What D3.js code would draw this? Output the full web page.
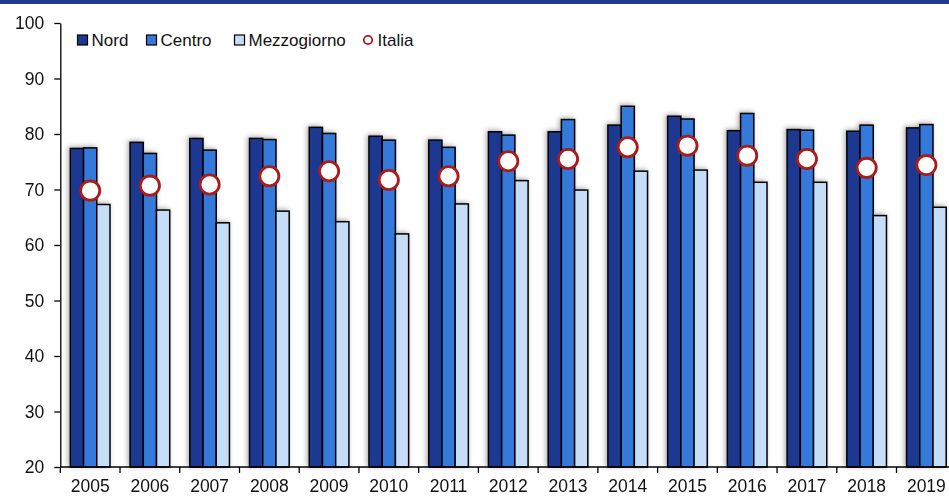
<!DOCTYPE html>
<html>
<head>
<meta charset="utf-8">
<script src="https://cdn.jsdelivr.net/npm/d3@7"></script>
<style>
  body { margin: 0; background: #fff; }
  svg { display: block; }
  text { font-family: "Liberation Sans", Arial, sans-serif; fill: #111; }
</style>
</head>
<body>
<svg id="chart" width="949" height="497"></svg>
<script>
// Share (%) by macro-area, 2005-2019
const years = ["2005","2006","2007","2008","2009","2010","2011","2012","2013","2014","2015","2016","2017","2018","2019"];
const nord        = [77.4, 78.5, 79.2, 79.2, 81.2, 79.6, 78.9, 80.4, 80.4, 81.6, 83.2, 80.6, 80.8, 80.5, 81.1];
const centro      = [77.5, 76.5, 77.1, 79.0, 80.1, 78.9, 77.6, 79.8, 82.6, 85.0, 82.7, 83.7, 80.7, 81.6, 81.7];
const mezzogiorno = [67.3, 66.3, 64.0, 66.1, 64.2, 62.0, 67.4, 71.6, 69.9, 73.3, 73.5, 71.3, 71.3, 65.3, 66.8];
const italia      = [69.8, 70.7, 70.9, 72.4, 73.3, 71.7, 72.4, 75.1, 75.5, 77.6, 77.9, 76.1, 75.5, 73.9, 74.4];
const seriesNames = ["Nord", "Centro", "Mezzogiorno"];
const yTicks = [20, 30, 40, 50, 60, 70, 80, 90, 100];

const seriesValues = { Nord: nord, Centro: centro, Mezzogiorno: mezzogiorno };
const seriesColors = { Nord: "#1f3891", Centro: "#3479da", Mezzogiorno: "#c6ddf8" };
const italiaStroke = "#a81c1c";

const svg = d3.select("#chart");
const W = 949;

const plotLeft = 60.3, step = 59.73, plotTop = 23, plotBottom = 467;

const x0 = d3.scaleBand().domain(years)
  .range([plotLeft, plotLeft + step * years.length]).padding(0);
const x1 = d3.scaleBand().domain(seriesNames)
  .range([0, x0.bandwidth()]).paddingInner(0).paddingOuter(0.76);
const y = d3.scaleLinear().domain([20, 100]).range([plotBottom, plotTop]);

// Filters: soft shadow behind bars, slight softening of the markers
const defs = svg.append("defs");
const sh = defs.append("filter").attr("id", "barShadow")
  .attr("x", "-50%").attr("y", "-10%").attr("width", "200%").attr("height", "120%");
sh.append("feDropShadow").attr("dx", -1.5).attr("dy", -1).attr("stdDeviation", 2.8)
  .attr("flood-color", "#000").attr("flood-opacity", 0.34);
const ms = defs.append("filter").attr("id", "markShadow")
  .attr("x", "-50%").attr("y", "-50%").attr("width", "200%").attr("height", "200%");
ms.append("feGaussianBlur").attr("in", "SourceGraphic").attr("stdDeviation", 0.45);

// Top band
svg.append("rect").attr("x", 0).attr("y", 0).attr("width", W).attr("height", 4)
  .attr("fill", "#22398f");

// Bars
const barRows = years.map((yr, i) => seriesNames.map(s => ({ year: yr, series: s, value: seriesValues[s][i] })));
const bars = svg.append("g").attr("filter", "url(#barShadow)");
bars.selectAll("g.year").data(barRows).join("g")
  .attr("class", "year")
  .attr("transform", d => `translate(${x0(d[0].year)},0)`)
  .selectAll("rect").data(d => d).join("rect")
  .attr("x", d => x1(d.series))
  .attr("y", d => y(d.value))
  .attr("width", x1.bandwidth())
  .attr("height", d => y(20) - y(d.value))
  .attr("fill", d => seriesColors[d.series])
  .attr("stroke", "#000")
  .attr("stroke-width", 1.5);

// Italia markers, centred on the Centro bar
svg.append("g").attr("filter", "url(#markShadow)")
  .selectAll("circle").data(years.map((yr, i) => ({ year: yr, value: italia[i] }))).join("circle")
  .attr("cx", d => x0(d.year) + x1("Centro") + x1.bandwidth() / 2)
  .attr("cy", d => y(d.value))
  .attr("r", 9.6)
  .attr("fill", "#fff")
  .attr("stroke", italiaStroke)
  .attr("stroke-width", 2.8);

// Y axis
const yAxis = svg.append("g").attr("transform", `translate(${plotLeft},0)`)
  .call(d3.axisLeft(y).tickValues(yTicks).tickSize(6).tickPadding(10).tickSizeOuter(0));
yAxis.select(".domain").attr("stroke", "#000").attr("stroke-width", 1.3);
yAxis.selectAll(".tick line").attr("stroke", "#000").attr("stroke-width", 1.3);
yAxis.selectAll(".tick text").style("font-size", "17.5px").attr("fill", "#111")
  .style("font-family", "'Liberation Sans', Arial, sans-serif");

// X axis: baseline, category boundary ticks and year labels
const xAxis = svg.append("g").attr("transform", `translate(0,${plotBottom})`);
xAxis.append("line").attr("x1", plotLeft).attr("x2", W)
  .attr("stroke", "#000").attr("stroke-width", 1.3);
const bounds = years.map(yr => x0(yr)).concat([x0(years[years.length - 1]) + x0.bandwidth()]);
xAxis.selectAll("line.bt").data(bounds).join("line").attr("class", "bt")
  .attr("x1", d => d).attr("x2", d => d).attr("y1", 0).attr("y2", 6)
  .attr("stroke", "#000").attr("stroke-width", 1.3);
xAxis.selectAll("text.yl").data(years).join("text").attr("class", "yl")
  .attr("x", d => x0(d) + x0.bandwidth() / 2)
  .attr("y", 25)
  .attr("text-anchor", "middle")
  .style("font-size", "17.5px")
  .text(d => d);

// Legend
const legend = svg.append("g");
const legendItems = [
  { name: "Nord", x: 77.5 },
  { name: "Centro", x: 146.5 },
  { name: "Mezzogiorno", x: 234.5 },
  { name: "Italia", x: 363.5 }
];
legendItems.forEach(it => {
  if (it.name === "Italia") {
    legend.append("circle").attr("cx", it.x + 4.5).attr("cy", 40).attr("r", 4.2)
      .attr("fill", "#fff").attr("stroke", italiaStroke).attr("stroke-width", 1.8);
  } else {
    legend.append("rect").attr("x", it.x).attr("y", 35).attr("width", 10).attr("height", 10)
      .attr("fill", seriesColors[it.name]).attr("stroke", "#000").attr("stroke-width", 1.2);
  }
  legend.append("text").attr("x", it.x + 14).attr("y", 46).style("font-size", "17px").text(it.name);
});
</script>
</body>
</html>
